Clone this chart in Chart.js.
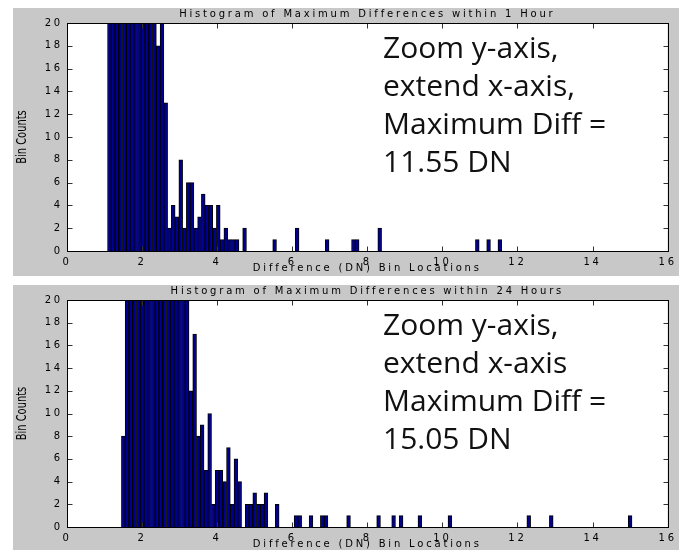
<!DOCTYPE html>
<html>
<head>
<meta charset="utf-8">
<script src="https://cdn.jsdelivr.net/npm/chart.js@4.4.1/dist/chart.umd.min.js"></script>
<style>
  body { margin: 0; background: #fff; width: 679px; height: 550px; position: relative; overflow: hidden; }
  .panel { position: absolute; left: 13px; width: 666px; background: #c8c8c8; }
  #top { top: 8px; height: 268px; }
  #bottom { top: 285px; height: 265px; }
</style>
</head>
<body>
<div class="panel" id="top"><canvas id="hourChart"></canvas></div>
<div class="panel" id="bottom"><canvas id="dayChart"></canvas></div>
<script>
// bin centres (DN) and counts
// bins taller than 20 are cut off by the zoomed y-axis, so their heights are only guesses
var hourBins = [1.13, 1.23, 1.33, 1.43, 1.53, 1.63, 1.73, 1.83, 1.93, 2.03, 2.13, 2.23, 2.33,
                2.43, 2.53, 2.63, 2.73, 2.83, 2.93, 3.03, 3.13, 3.23, 3.33, 3.43, 3.53, 3.63,
                3.73, 3.83, 3.93, 4.03, 4.13, 4.23, 4.33, 4.43, 4.53, 4.73, 5.53, 6.13, 6.93,
                7.63, 7.73, 8.33, 10.93, 11.23, 11.53];
var hourCounts = [34, 58, 96, 142, 180, 205, 214, 198, 170, 128, 88, 55, 30,
                  18, 24, 13, 2, 4, 3, 8, 2, 6, 6, 2, 3, 5,
                  4, 4, 2, 4, 1, 2, 1, 1, 1, 2, 1, 2, 1,
                  1, 1, 2, 1, 1, 1];

var dayBins = [1.5, 1.6, 1.7, 1.8, 1.9, 2.0, 2.1, 2.2, 2.3, 2.4, 2.5, 2.6, 2.7, 2.8, 2.9, 3.0,
               3.1, 3.2, 3.3, 3.4, 3.5, 3.6, 3.7, 3.8, 3.9, 4.0, 4.1, 4.2, 4.3, 4.4, 4.5, 4.6,
               4.8, 4.9, 5.0, 5.1, 5.2, 5.3, 5.6, 6.1, 6.2, 6.5, 6.8, 6.9, 7.5, 8.3, 8.7, 8.9,
               9.4, 10.2, 12.3, 12.9, 15.0];
var dayCounts = [8, 40, 85, 140, 190, 230, 250, 245, 225, 195, 160, 125, 95, 70, 52, 38,
                 28, 22, 12, 17, 8, 9, 5, 10, 2, 5, 5, 4, 7, 2, 6, 4,
                 2, 2, 3, 2, 2, 3, 2, 1, 1, 1, 1, 1, 1, 1, 1, 1,
                 1, 1, 1, 1, 1];

var xMin = 0, xMax = 16, xStep = 2;
var yMin = 0, yMax = 20, yStep = 2;

var hourTitle = 'Histogram of Maximum Differences within 1 Hour';
var dayTitle = 'Histogram of Maximum Differences within 24 Hours';
var xLabel = 'Difference (DN) Bin Locations';
var yLabel = 'Bin Counts';
var hourNote = ['Zoom y-axis,', 'extend x-axis,', 'Maximum Diff =', '11.55 DN'];
var dayNote = ['Zoom y-axis,', 'extend x-axis', 'Maximum Diff =', '15.05 DN'];

Chart.defaults.font.family = "'DejaVu Sans', sans-serif";
Chart.defaults.font.size = 10;
Chart.defaults.color = '#000';

// matlab-ish look: white boxed axes, ticks pointing inwards, stretched lettering
var matlabAxes = {
  id: 'matlabAxes',
  beforeDraw: function(chart) {
    var ctx = chart.ctx, area = chart.chartArea;
    ctx.save();
    ctx.fillStyle = '#fff';
    ctx.fillRect(area.left, area.top, area.right - area.left, area.bottom - area.top);
    ctx.restore();
    ctx.letterSpacing = '2.8px';
  },
  afterDraw: function(chart, args, opts) {
    var ctx = chart.ctx;
    var area = chart.chartArea;
    var xs = chart.scales.x, ys = chart.scales.y;
    var l = Math.round(area.left) + 0.5, r = Math.round(area.right) + 0.5;
    var t = Math.round(area.top) + 0.5, b = Math.round(area.bottom) + 0.5;
    ctx.save();
    ctx.letterSpacing = '0px';

    ctx.strokeStyle = '#333';
    ctx.lineWidth = 1;
    ctx.beginPath();
    xs.ticks.forEach(function(tick) {
      var px = Math.round(xs.getPixelForValue(tick.value)) + 0.5;
      ctx.moveTo(px, b); ctx.lineTo(px, b - 5);
      ctx.moveTo(px, t); ctx.lineTo(px, t + 5);
    });
    ys.ticks.forEach(function(tick) {
      var py = Math.round(ys.getPixelForValue(tick.value)) + 0.5;
      ctx.moveTo(l, py); ctx.lineTo(l + 5, py);
      ctx.moveTo(r, py); ctx.lineTo(r - 5, py);
    });
    ctx.stroke();

    ctx.strokeStyle = '#000';
    ctx.strokeRect(l, t, r - l, b - t);

    // y-axis title, narrow and tall like the original
    ctx.save();
    ctx.translate(area.left - 45, (area.top + area.bottom) / 2);
    ctx.rotate(-Math.PI / 2);
    ctx.scale(1, 1.3);
    ctx.font = "11px 'Liberation Sans Narrow', 'DejaVu Sans Condensed', sans-serif";
    ctx.fillStyle = '#000';
    ctx.textAlign = 'center';
    ctx.textBaseline = 'middle';
    ctx.fillText(opts.yTitle, 0, 0);
    ctx.restore();

    // the big note written over the plot
    ctx.font = opts.noteSize + "px 'Open Sans', sans-serif";
    ctx.fillStyle = '#111';
    ctx.textAlign = 'left';
    ctx.textBaseline = 'alphabetic';
    opts.note.forEach(function(line, i) {
      ctx.fillText(line, area.left + opts.noteLeft, area.top + opts.noteTop + i * opts.noteGap);
    });
    ctx.restore();
  }
};

function drawHistogram(canvasId, bins, counts, title, note, bottomPad) {
  var points = [];
  for (var i = 0; i < bins.length; i++) {
    points.push({x: bins[i], y: counts[i]});
  }
  var ctx = document.getElementById(canvasId).getContext('2d');
  return new Chart(ctx, {
    type: 'bar',
    data: {
      datasets: [{
        data: points,
        backgroundColor: '#00008f',
        borderColor: '#000',
        borderWidth: 1,
        borderSkipped: 'bottom',
        barPercentage: 1,
        categoryPercentage: 1
      }]
    },
    options: {
      responsive: true,
      maintainAspectRatio: false,
      animation: false,
      layout: { padding: { left: 0, right: 9, top: 0, bottom: bottomPad } },
      plugins: {
        legend: { display: false },
        tooltip: { enabled: false },
        title: {
          display: true,
          fullSize: false,
          text: title,
          font: { size: 10, weight: 'normal' },
          color: '#000',
          padding: { top: 0, bottom: 3 }
        },
        matlabAxes: {
          yTitle: yLabel,
          note: note,
          noteSize: 30,
          noteLeft: 316,
          noteTop: 35,
          noteGap: 38
        }
      },
      scales: {
        x: {
          type: 'linear',
          min: xMin,
          max: xMax,
          offset: false,
          grid: { display: false, drawTicks: false },
          border: { display: false },
          ticks: { stepSize: xStep, padding: 5, maxRotation: 0 },
          title: { display: true, text: xLabel, padding: 0, font: { size: 10 } },
          afterFit: function(scale) { scale.height = 23; }
        },
        y: {
          min: yMin,
          max: yMax,
          grid: { display: false, drawTicks: false },
          border: { display: false },
          ticks: { stepSize: yStep, padding: 4 },
          afterFit: function(scale) { scale.width = 54; }
        }
      }
    },
    plugins: [matlabAxes]
  });
}

drawHistogram('hourChart', hourBins, hourCounts, hourTitle, hourNote, 2);
drawHistogram('dayChart', dayBins, dayCounts, dayTitle, dayNote, 0);
</script>
</body>
</html>
